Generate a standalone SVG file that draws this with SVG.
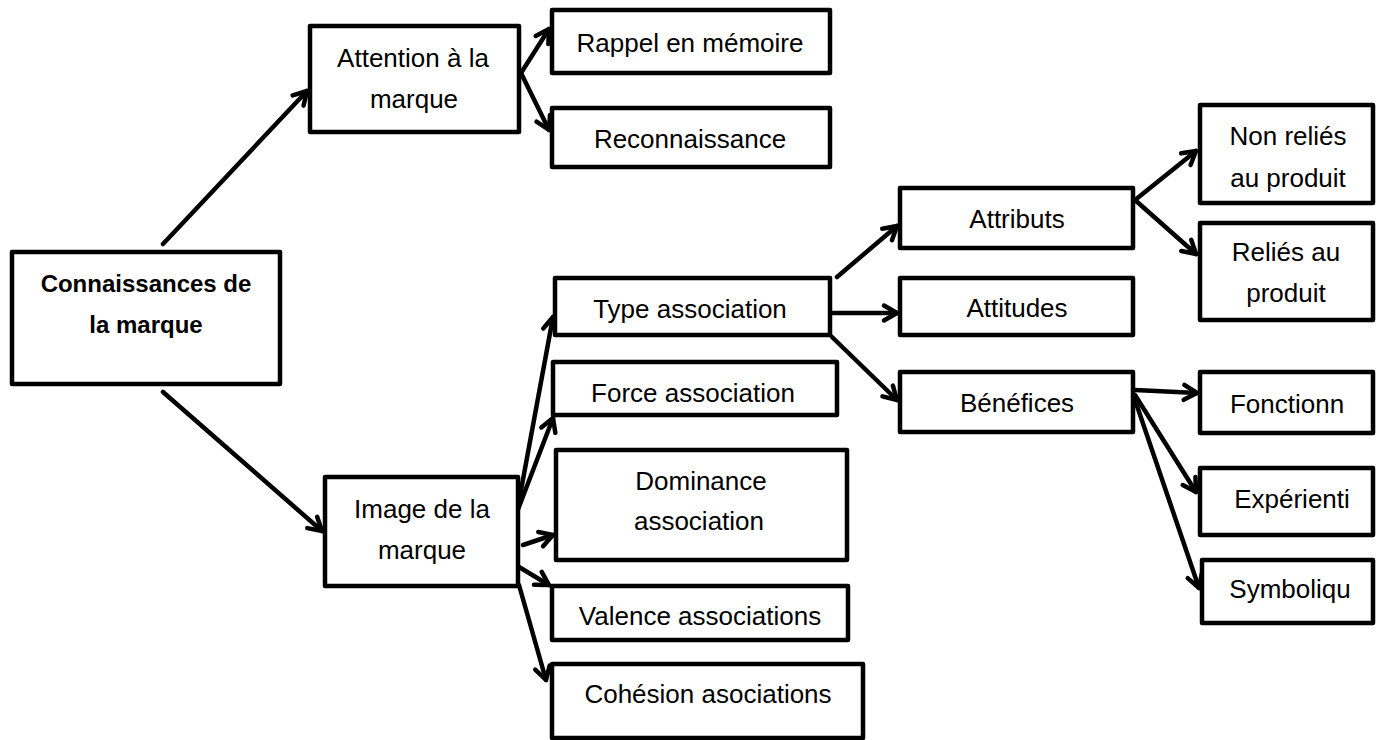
<svg xmlns="http://www.w3.org/2000/svg" width="1376" height="740" viewBox="0 0 1376 740">
<style>
.box{fill:#fff;stroke:#000;stroke-width:4.5;stroke-linejoin:round}
.t{font-family:"Liberation Sans",Arial,sans-serif;font-size:26px;fill:#000;text-anchor:middle}
.b{font-weight:bold;font-size:24px}
.c{stroke:#000;stroke-width:4.5;fill:none;stroke-linecap:round;marker-end:url(#ah)}
</style>
<defs>
<marker id="ah" markerUnits="userSpaceOnUse" markerWidth="22" markerHeight="22" viewBox="0 0 22 22" refX="18" refY="11" orient="auto">
<path d="M5,3.5 L18,11 L5,18.5" fill="none" stroke="#000" stroke-width="4.5" stroke-linecap="round" stroke-linejoin="round"/>
</marker>
</defs>
<rect width="1376" height="740" fill="#fff"/>
<g id="connectors">
<line class="c" x1="163" y1="244" x2="307" y2="91"/>
<line class="c" x1="163" y1="392" x2="322" y2="531"/>
<line class="c" x1="521" y1="73" x2="549" y2="29"/>
<line class="c" x1="521" y1="73" x2="549" y2="130"/>
<line class="c" x1="517" y1="512" x2="553" y2="317"/>
<line class="c" x1="517" y1="512" x2="553" y2="418"/>
<line class="c" x1="523" y1="545" x2="553" y2="535"/>
<line class="c" x1="519" y1="567" x2="549" y2="585"/>
<line class="c" x1="519" y1="585" x2="546" y2="680"/>
<line class="c" x1="837" y1="277" x2="897" y2="226"/>
<line class="c" x1="832" y1="313" x2="897" y2="313"/>
<line class="c" x1="832" y1="337" x2="897" y2="400"/>
<line class="c" x1="1135" y1="200" x2="1196" y2="151"/>
<line class="c" x1="1135" y1="200" x2="1196" y2="254"/>
<line class="c" x1="1135" y1="390" x2="1197" y2="393"/>
<line class="c" x1="1135" y1="395" x2="1196" y2="492"/>
<line class="c" x1="1135" y1="400" x2="1199" y2="588"/>
</g>
<g id="n-connaissances"><rect class="box" x="12" y="252" width="268" height="132"/><text class="t b" x="146" y="292">Connaissances de</text><text class="t b" x="146" y="333">la marque</text></g>
<g id="n-attention"><rect class="box" x="310" y="26" width="209" height="106"/><text class="t" x="413" y="67">Attention à la</text><text class="t" x="414" y="108">marque</text></g>
<g id="n-rappel"><rect class="box" x="552" y="10" width="278" height="63"/><text class="t" x="690" y="52">Rappel en mémoire</text></g>
<g id="n-reconnaissance"><rect class="box" x="552" y="108" width="278" height="59"/><text class="t" x="690" y="148">Reconnaissance</text></g>
<g id="n-image"><rect class="box" x="325" y="477" width="193" height="109"/><text class="t" x="422" y="518">Image de la</text><text class="t" x="422" y="559">marque</text></g>
<g id="n-type"><rect class="box" x="555" y="278" width="275" height="57"/><text class="t" x="690" y="318">Type association</text></g>
<g id="n-force"><rect class="box" x="553" y="362" width="284" height="53"/><text class="t" x="693" y="402">Force association</text></g>
<g id="n-dominance"><rect class="box" x="556" y="450" width="291" height="110"/><text class="t" x="701" y="490">Dominance</text><text class="t" x="699" y="530">association</text></g>
<g id="n-valence"><rect class="box" x="552" y="586" width="296" height="54"/><text class="t" x="700" y="625">Valence associations</text></g>
<g id="n-cohesion"><rect class="box" x="552" y="664" width="311" height="74"/><text class="t" x="708" y="703">Cohésion asociations</text></g>
<g id="n-attributs"><rect class="box" x="900" y="188" width="233" height="60"/><text class="t" x="1017" y="228">Attributs</text></g>
<g id="n-attitudes"><rect class="box" x="900" y="278" width="233" height="57"/><text class="t" x="1017" y="317">Attitudes</text></g>
<g id="n-benefices"><rect class="box" x="900" y="372" width="233" height="60"/><text class="t" x="1017" y="412">Bénéfices</text></g>
<g id="n-nonrelies"><rect class="box" x="1200" y="105" width="173" height="98"/><text class="t" x="1288" y="145">Non reliés</text><text class="t" x="1288" y="187">au produit</text></g>
<g id="n-relies"><rect class="box" x="1200" y="223" width="173" height="97"/><text class="t" x="1286" y="261">Reliés au</text><text class="t" x="1286" y="302">produit</text></g>
<g id="n-fonctionn"><rect class="box" x="1200" y="372" width="173" height="61"/><text class="t" x="1287" y="413">Fonctionn</text></g>
<g id="n-experienti"><rect class="box" x="1200" y="468" width="173" height="67"/><text class="t" x="1292" y="508">Expérienti</text></g>
<g id="n-symboliqu"><rect class="box" x="1202" y="560" width="171" height="63"/><text class="t" x="1290" y="598">Symboliqu</text></g>
</svg>
